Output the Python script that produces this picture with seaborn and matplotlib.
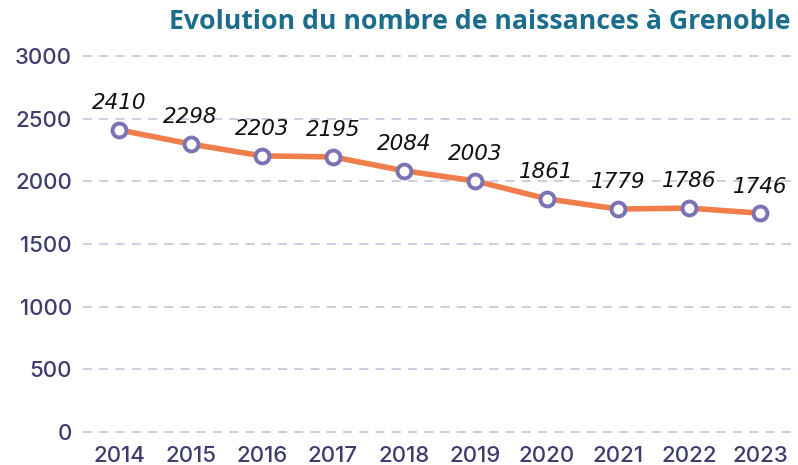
import matplotlib
matplotlib.use("Agg")
import matplotlib.pyplot as plt
import seaborn as sns
import pandas as pd

years = [2014, 2015, 2016, 2017, 2018, 2019, 2020, 2021, 2022, 2023]
births = [2410, 2298, 2203, 2195, 2084, 2003, 1861, 1779, 1786, 1746]
yticks = [0, 500, 1000, 1500, 2000, 2500, 3000]
title = "Evolution du nombre de naissances à Grenoble"

sns.set_theme(style="white")
plt.rcParams['font.family'] = ['Inter', 'DejaVu Sans']

df = pd.DataFrame({"year": years, "births": births})

fig = plt.figure(figsize=(7.98, 4.65), dpi=100)
ax = fig.add_axes([83/798, 33/465, 1 - 83/798, (432-56)/465])

for t in yticks:
    ax.axhline(t, color="#c9c8e2", lw=1.3, ls=(0, (5, 4)), zorder=0, clip_on=False)

sns.lineplot(data=df, x="year", y="births", ax=ax, color="#f07d4a", lw=4,
             marker="o", markersize=10, markerfacecolor="white",
             markeredgecolor="#7a74b4", markeredgewidth=2.8, zorder=3, clip_on=False)

for x, y in zip(years, births):
    ax.annotate(str(y), (x, y), xytext=(0, 12), textcoords="offset points",
                ha="center", va="bottom", fontsize=15.5, style="italic",
                color="#111111", family=["DejaVu Sans"])

ax.set_xlim(2013.49, 2023.53)
ax.set_ylim(0, 3000)
ax.set_xticks(years)
ax.set_yticks(yticks)
ax.set_xticklabels([str(y) for y in years])
ax.tick_params(axis="both", length=0, labelsize=16, labelcolor="#3e3d6e")
for lab in ax.get_xticklabels() + ax.get_yticklabels():
    lab.set_fontweight("medium")
ax.tick_params(axis="x", pad=10)
ax.tick_params(axis="y", pad=8)
ax.set_xlabel("")
ax.set_ylabel("")
for s in ax.spines.values():
    s.set_visible(False)

fig.text(0.99, 0.952, title, ha="right", va="center", fontsize=19.2,
         fontweight="bold", color="#1c6d8c", family=["Open Sans", "DejaVu Sans"])

fig.savefig("out.png", dpi=100)
